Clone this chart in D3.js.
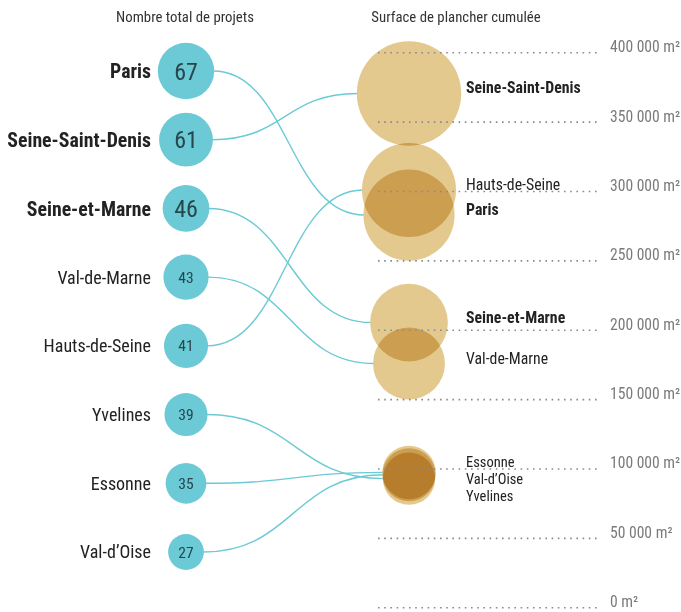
<!DOCTYPE html>
<html>
<head>
<meta charset="utf-8">
<script src="https://cdn.jsdelivr.net/npm/d3@7"></script>
<style>
  body { margin: 0; background: #fff; }
  svg { display: block; }
  text { font-family: "Liberation Sans Narrow", "Roboto Condensed", "DejaVu Sans Condensed", sans-serif; font-stretch: condensed; }
</style>
</head>
<body>
<svg id="chart" width="681" height="612"></svg>
<script>
// ---- data ----
const departments = ["Paris", "Seine-Saint-Denis", "Seine-et-Marne", "Val-de-Marne", "Hauts-de-Seine", "Yvelines", "Essonne", "Val-d’Oise"];
const projects = [67, 61, 46, 43, 41, 39, 35, 27];
const surfaces = [283000, 370600, 205500, 176000, 301000, 93000, 97500, 95800];
const highlighted = ["Paris", "Seine-Saint-Denis", "Seine-et-Marne"];
const surfaceTicks = [0, 50000, 100000, 150000, 200000, 250000, 300000, 350000, 400000];
const surfaceTickLabels = ["0 m²", "50 000 m²", "100 000 m²", "150 000 m²", "200 000 m²", "250 000 m²", "300 000 m²", "350 000 m²", "400 000 m²"];
const titles = ["Nombre total de projets", "Surface de plancher cumulée"];

const rows = departments.map((d, i) => ({ name: d, projects: projects[i], surface: surfaces[i], bold: highlighted.includes(d) }));

const svg = d3.select("#chart");

const leftX = 186, rightX = 409;
const yLeft = d3.scalePoint().domain(departments).range([71, 552]);
const rLeft = d3.scaleSqrt().domain([0, d3.max(projects)]).range([0, 28.2]);
const yRight = d3.scaleLinear().domain([0, 400000]).range([607.7, 52.7]);
const rRight = d3.scaleSqrt().domain([0, 370600]).range([0, 52.2]);

const teal = "#6bcad5";
const gold = "#e4c98f";

// titles
svg.append("text").attr("x", 185).attr("y", 22).attr("text-anchor", "middle")
  .attr("font-size", 14.8).attr("fill", "#333").text(titles[0]);
svg.append("text").attr("x", 456).attr("y", 22).attr("text-anchor", "middle")
  .attr("font-size", 14.8).attr("fill", "#333").text(titles[1]);

// links
const link = d3.linkHorizontal().x(d => d[0]).y(d => d[1]);
svg.append("g").selectAll("path").data(rows).join("path")
  .attr("d", d => link({
    source: [leftX + rLeft(d.projects) - 1, yLeft(d.name)],
    target: [rightX - rRight(d.surface) + 1, yRight(d.surface)]
  }))
  .attr("fill", "none").attr("stroke", teal).attr("stroke-width", 1.4);

// right circles (multiply blend)
const sortedBySurface = rows.slice().sort((a, b) => b.surface - a.surface);
svg.append("g").style("isolation", "isolate").selectAll("circle").data(sortedBySurface).join("circle")
  .attr("cx", rightX).attr("cy", d => yRight(d.surface)).attr("r", d => rRight(d.surface))
  .attr("fill", gold).style("mix-blend-mode", "multiply");

// gridlines
const grid = svg.append("g");
grid.selectAll("line").data(surfaceTicks).join("line")
  .attr("x1", 378).attr("x2", 601)
  .attr("y1", d => yRight(d)).attr("y2", d => yRight(d))
  .attr("stroke", "#8a8a8a").attr("stroke-width", 1.6).attr("stroke-dasharray", "1.6 4.6");
grid.selectAll("text").data(surfaceTicks).join("text")
  .attr("x", 610).attr("y", d => yRight(d) - 0.5)
  .attr("font-size", 15.6).attr("fill", "#7a7a7a")
  .text((d, i) => surfaceTickLabels[i]);

// right labels with simple collision stacking
const step = 17;
const labelPos = [];
let prev = -Infinity;
sortedBySurface.forEach(d => {
  let y = yRight(d.surface);
  let stacked = false;
  if (y - prev < 14) { y = prev + step; stacked = true; }
  labelPos.push({ d, y, stacked });
  prev = y;
});
for (let i = 0; i < labelPos.length; i++) {
  if (i + 1 < labelPos.length && labelPos[i + 1].stacked && !labelPos[i].stacked) {
    let j = i;
    while (j < labelPos.length && (j === i || labelPos[j].stacked)) { labelPos[j].y -= 5; j++; }
  }
}
svg.append("g").selectAll("text").data(labelPos).join("text")
  .attr("x", 466).attr("y", p => p.y)
  .attr("font-size", p => p.stacked || labelPos.some(q => q.stacked && Math.abs(q.y - p.y) <= step) ? 14.5 : 15.8)
  .attr("font-weight", p => p.d.bold ? "bold" : "normal")
  .attr("fill", "#222").text(p => p.d.name);

// left circles
const left = svg.append("g").selectAll("g").data(rows).join("g")
  .attr("transform", d => `translate(${leftX},${yLeft(d.name)})`);
left.append("circle").attr("r", d => rLeft(d.projects)).attr("fill", teal);
left.append("text").attr("text-anchor", "middle").attr("dy", "0.36em")
  .attr("font-size", d => d.bold ? 24 : 15.5).attr("fill", "#27474d")
  .text(d => d.projects);
left.append("text").attr("x", -35).attr("text-anchor", "end").attr("dy", "0.36em")
  .attr("font-size", d => d.bold ? 19.8 : 18).attr("font-weight", d => d.bold ? "bold" : "normal")
  .attr("fill", "#222").text(d => d.name);
</script>
</body>
</html>
